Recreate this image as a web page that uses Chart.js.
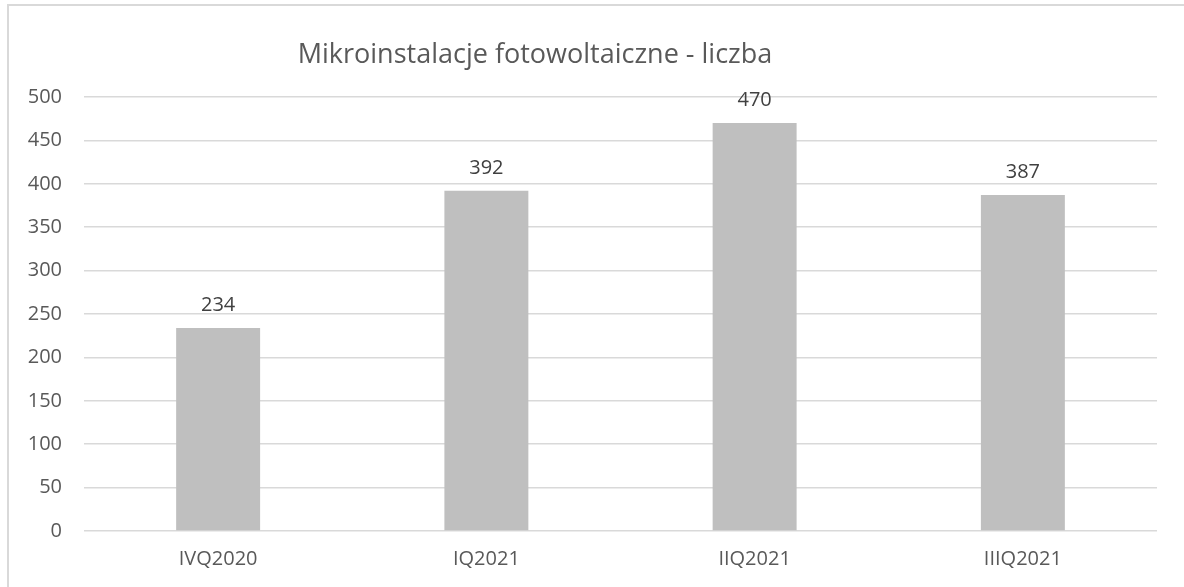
<!DOCTYPE html>
<html>
<head>
<meta charset="utf-8">
<script src="https://cdn.jsdelivr.net/npm/chart.js@4"></script>
<style>
  html, body { margin: 0; padding: 0; background: #fff; overflow: hidden; }
  #wrap { position: relative; width: 1184px; height: 587px; }
  #frame {
    position: absolute; left: 7px; top: 4px; width: 1300px; height: 700px;
    border: 2px solid #d9d9d9; box-sizing: border-box; pointer-events: none;
  }
</style>
</head>
<body>
<div id="wrap">
  <canvas id="chart" width="1184" height="587"></canvas>
  <div id="frame"></div>
</div>
<script>
// ========================================
// Data
// ========================================
const categories = ['IVQ2020', 'IQ2021', 'IIQ2021', 'IIIQ2021'];
const counts = [234, 392, 470, 387];
const chartTitle = 'Mikroinstalacje fotowoltaiczne - liczba';

const FONT = '"Open Sans", "Noto Sans", sans-serif';
const TEXT_COLOR = '#595959';

// ========================================
// Plugins
// ========================================
const titlePlugin = {
    id: 'excelTitle',
    afterDraw(chart) {
        const ctx = chart.ctx;
        ctx.save();
        ctx.font = '27px ' + FONT;
        ctx.fillStyle = TEXT_COLOR;
        ctx.textAlign = 'center';
        ctx.textBaseline = 'alphabetic';
        ctx.fillText(chartTitle, 535, 63);
        ctx.restore();
    }
};

const valueLabels = {
    id: 'valueLabels',
    afterDatasetsDraw(chart) {
        const ctx = chart.ctx;
        const meta = chart.getDatasetMeta(0);
        ctx.save();
        ctx.font = '20px ' + FONT;
        ctx.fillStyle = '#404040';
        ctx.textAlign = 'center';
        ctx.textBaseline = 'alphabetic';
        meta.data.forEach((bar, i) => {
            ctx.fillText(String(counts[i]), bar.x, bar.y - 17);
        });
        ctx.restore();
    }
};

// ========================================
// Chart
// ========================================
new Chart(document.getElementById('chart'), {
    type: 'bar',
    data: {
        labels: categories,
        datasets: [{
            data: counts,
            backgroundColor: '#bfbfbf',
            borderWidth: 0,
            barPercentage: 0.313,
            categoryPercentage: 1
        }]
    },
    options: {
        responsive: false,
        animation: false,
        layout: { padding: { top: 97, right: 27, left: 0, bottom: 0 } },
        plugins: {
            legend: { display: false },
            title: { display: false },
            tooltip: { enabled: false }
        },
        scales: {
            x: {
                grid: { display: false, drawTicks: false },
                border: { display: false },
                ticks: {
                    color: TEXT_COLOR,
                    font: { family: FONT, size: 20 },
                    padding: 16
                },
                afterFit(scale) { scale.height = 56; }
            },
            y: {
                min: 0,
                max: 500,
                ticks: {
                    stepSize: 50,
                    color: TEXT_COLOR,
                    font: { family: FONT, size: 20 },
                    padding: 22
                },
                grid: { color: '#d9d9d9', lineWidth: 1.5, drawTicks: false },
                border: { display: false },
                afterFit(scale) { scale.width = 84; }
            }
        }
    },
    plugins: [titlePlugin, valueLabels]
});
</script>
</body>
</html>
